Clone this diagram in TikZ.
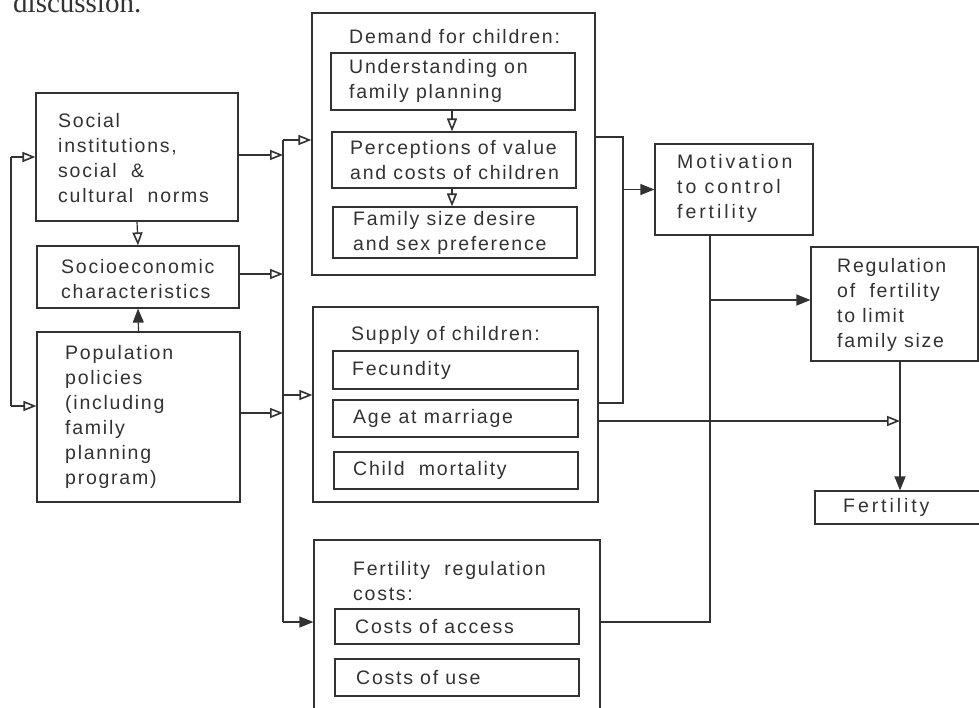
\documentclass[tikz,border=0pt]{standalone}
\usepackage{fontspec}
\setmainfont{Liberation Sans}[LetterSpace=9]
\newfontfamily\serifont{Liberation Serif}
\usetikzlibrary{arrows.meta}
\definecolor{ink}{RGB}{50,50,50}
\begin{document}
\begin{tikzpicture}[x=1pt,y=-1pt,
  box/.style={draw=ink, line width=1.2pt, inner sep=0, rectangle},
  txt/.style={inner sep=0, align=left, anchor=west, text=ink, font=\fontsize{19.5}{25}\selectfont},
  ttl/.style={inner sep=0, align=left, anchor=base west, text=ink, font=\fontsize{19.5}{25}\selectfont},
  wide/.style={font=\addfontfeatures{LetterSpace=15}\fontsize{19.5}{25}\selectfont},
  ln/.style={draw=ink, line width=1.2pt},
  oar/.style={ln, -{Triangle[open, length=13pt, width=10pt, line width=1.6pt]}},
  far/.style={ln, -{Triangle[length=14pt, width=11pt]}}
]
\useasboundingbox (0,0) rectangle (979,707);
\node[inner sep=0, anchor=base west, text=ink, font=\serifont\fontsize{29}{30}\selectfont] (disc) at (13,12) {discussion.};

% left column
\node[box, minimum width=202pt, minimum height=128pt] (social) at (137,157) {};
\node[box, minimum width=202pt, minimum height=62pt] (socio) at (138,277) {};
\node[box, minimum width=203pt, minimum height=170pt] (pop) at (138.5,417) {};
\node[txt] (socialT) at (58,158) {Social\\institutions,\\social \ \&\\cultural \ norms};
\node[txt] (socioT) at (61,279) {Socioeconomic\\characteristics};
\node[txt] (popT) at (65,417) {Population\\policies\\(including\\family\\planning\\program)};

% demand
\node[box, minimum width=283pt, minimum height=262pt] (demand) at (453.5,144) {};
\node[ttl] (demandT) at (349,43) {Demand for children:};
\node[box, minimum width=244pt, minimum height=57pt] (und) at (453,81.5) {};
\node[box, minimum width=244pt, minimum height=56pt] (perc) at (454,160) {};
\node[box, minimum width=244pt, minimum height=51pt] (fam) at (455,232.5) {};
\node[txt] (undT) at (349,81) {Understanding on\\family planning};
\node[txt] (percT) at (350,160) {Perceptions of value\\and costs of children};
\node[txt] (famT) at (353,232.5) {Family size desire\\and sex preference};

% supply
\node[box, minimum width=285pt, minimum height=195pt] (supply) at (455.5,404.5) {};
\node[ttl] (supplyT) at (351,340) {Supply of children:};
\node[box, minimum width=245pt, minimum height=38pt] (fec) at (455.5,370) {};
\node[box, minimum width=245pt, minimum height=37pt] (age) at (455.5,418.5) {};
\node[box, minimum width=244pt, minimum height=37pt] (child) at (456,470.5) {};
\node[txt] (fecT) at (352,370) {Fecundity};
\node[txt] (ageT) at (353,418.5) {Age at marriage};
\node[txt] (childT) at (353,470.5) {Child \ mortality};

% costs
\node[box, minimum width=286pt, minimum height=180pt] (costs) at (457,630) {};
\node[ttl] (costsT) at (353,600) {Fertility \ regulation\\costs:};
\node[box, minimum width=244pt, minimum height=35pt] (access) at (457,626.5) {};
\node[box, minimum width=244pt, minimum height=37pt] (use) at (457,677.5) {};
\node[txt] (accessT) at (355,626.5) {Costs of access};
\node[txt] (useT) at (356,677.5) {Costs of use};

% right
\node[box, minimum width=158pt, minimum height=91pt] (motiv) at (734,189.5) {};
\node[txt, wide] (motivT) at (677,188) {Motivation\\to control\\fertility};
\node[box, minimum width=167pt, minimum height=114pt] (regul) at (894.5,304) {};
\node[txt] (regulT) at (837,304.5) {Regulation\\of \ fertility\\to limit\\family size};
\node[box, minimum width=175pt, minimum height=33pt] (fert) at (902.5,507.5) {};
\node[txt, wide] (fertT) at (843,507.5) {Fertility};

% coordinates
\coordinate (busTop) at (283,140);
\coordinate (busBot) at (283,622);
\coordinate (loopTop) at (11,157);
\coordinate (loopBot) at (11,406);
\coordinate (brTop) at (623,137);
\coordinate (brBot) at (623,403);
\coordinate (brMid) at (623,189.5);
\coordinate (mlTop) at (710,235);
\coordinate (mlBot) at (710,622);
\coordinate (mlMid) at (710,300);
\coordinate (ageL) at (598,421);
\coordinate (rfx) at (900,421);
\coordinate (supIn) at (283,395);

% left loop
\draw[ln] (loopTop) -- (loopBot);
\draw[oar] (loopTop) -- (loopTop -| social.west);
\draw[oar] (loopBot) -- (loopBot -| pop.west);
\draw[oar] (social.south) -- (socio.north);
\draw[far] (pop.north) -- (socio.north |- socio.south);

% bus
\draw[ln] (busTop) -- (busBot);
\draw[oar] (social.east |- 0,155) -- (busTop |- 0,155);
\draw[oar] (socio.east |- 0,274) -- (busTop |- 0,274);
\draw[oar] (pop.east |- 0,413) -- (busTop |- 0,413);
\draw[oar] (busTop) -- (busTop -| demand.west);
\draw[oar] (supIn) -- (supIn -| supply.west);
\draw[far] (busBot) -- (busBot -| costs.west);

% inside demand
\draw[oar] (und.south -| 452,0) -- (perc.north -| 452,0);
\draw[oar] (perc.south -| 452,0) -- (fam.north -| 452,0);

% bracket to motivation
\draw[ln] (brTop -| demand.east) -- (brTop) -- (brBot) -- (brBot -| supply.east);
\draw[far] (brMid) -- (brMid -| motiv.west);

% costs to regulation
\draw[ln] (mlBot -| costs.east) -- (mlBot) -- (mlTop |- motiv.south);
\draw[far] (mlMid) -- (mlMid -| regul.west);

% age line
\draw[oar] (ageL) -- (rfx);
\draw[far] (regul.south -| rfx) -- (fert.north -| rfx);
\end{tikzpicture}
\end{document}
